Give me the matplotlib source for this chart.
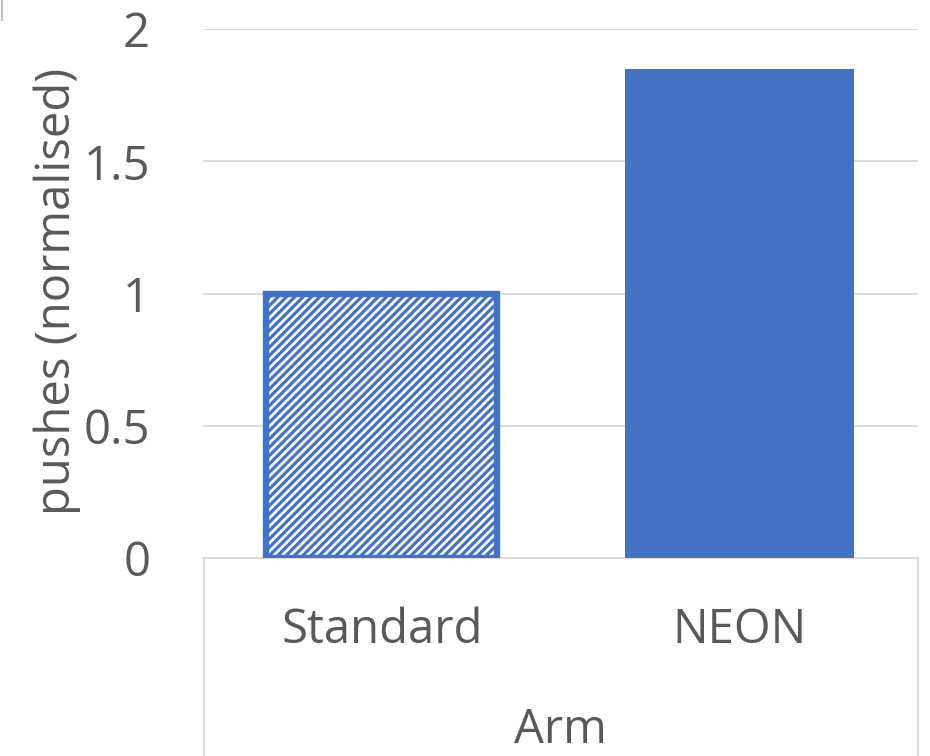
import matplotlib.pyplot as plt
from matplotlib.lines import Line2D

# Data ---------------------------------------------------------------
categories = ["Standard", "NEON"]
pushes = [1.0, 1.85]
group_label = "Arm"
yticks = [0, 0.5, 1, 1.5, 2]
ytick_labels = ["0", "0.5", "1", "1.5", "2"]

blue = "#4472C4"
grey_text = "#595959"
grid_grey = "#D9D9D9"

plt.rcParams["font.family"] = ["Open Sans", "DejaVu Sans"]
plt.rcParams["hatch.linewidth"] = 2.3
fsize = 34

W, H = 930, 756
fig = plt.figure(figsize=(W / 100, H / 100), dpi=100)
ax = fig.add_axes([203 / W, 1 - 558 / H, (918 - 203) / W, (558 - 29) / H])

x = range(len(categories))
# first bar hatched with a thick outline, second one solid
ax.bar(x[0], pushes[0], width=0.645, facecolor="white", edgecolor=blue,
       hatch="////", linewidth=4.6, zorder=3)
ax.bar(x[1], pushes[1], width=0.64, color=blue, zorder=3)

ax.set_xlim(-0.5, 1.5)
ax.set_ylim(0, 2)
ax.set_yticks(yticks)
ax.set_yticklabels(ytick_labels)
ax.set_xticks(list(x))
ax.set_xticklabels(categories)

ax.yaxis.grid(True, color=grid_grey, linewidth=1.3, zorder=0)
ax.set_axisbelow(True)
for s in ["top", "right", "left"]:
    ax.spines[s].set_visible(False)
ax.spines["bottom"].set_color(grid_grey)
ax.spines["bottom"].set_linewidth(1.3)

ax.tick_params(axis="y", length=0, pad=38, labelsize=fsize, labelcolor=grey_text)
ax.tick_params(axis="x", length=0, pad=61, labelsize=fsize, labelcolor=grey_text)
for lab in ax.get_xticklabels():
    lab.set_va("baseline")

# y axis title
fig.text(57 / W, 1 - 291 / H, "pushes (normalised)", rotation=90,
         ha="center", va="center", fontsize=fsize, color=grey_text)

# category box below the axis
for xp in [203.5, 918]:
    fig.add_artist(Line2D([xp / W, xp / W], [0, 1 - 558 / H],
                          transform=fig.transFigure, color=grid_grey, linewidth=1.3))
fig.add_artist(Line2D([1.5 / W, 1.5 / W], [1 - 20 / H, 1],
                      transform=fig.transFigure, color="#BFBFBF", linewidth=1.5))

fig.text(560 / W, 1 - 743 / H, group_label, ha="center", va="baseline",
         fontsize=fsize, color=grey_text)

fig.savefig("out.png", dpi=100)
